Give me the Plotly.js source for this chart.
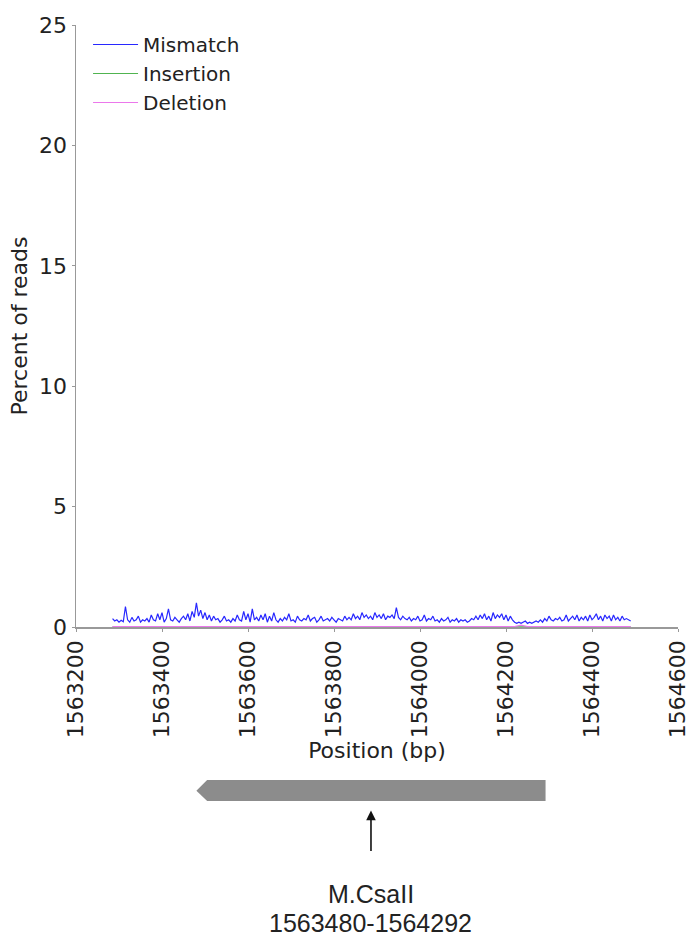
<!DOCTYPE html>
<html>
<head>
<meta charset="utf-8">
<script src="https://cdn.plot.ly/plotly-3.0.1.min.js"></script>
<style>html,body{margin:0;padding:0;background:#fff;}#chart{width:691px;height:950px;}</style>
</head>
<body>
<div id="chart"></div>
<script>
// ---- data ----
var mismatchStart = 1563285;
var mismatchStep = 5;
var mismatchValues = [
  0.35,0.25,0.3,0.2,0.28,0.22,0.85,0.3,0.2,0.4,
  0.25,0.3,0.45,0.2,0.3,0.25,0.35,0.2,0.5,0.3,
  0.25,0.55,0.3,0.6,0.2,0.35,0.75,0.3,0.25,0.4,
  0.3,0.2,0.35,0.45,0.3,0.55,0.25,0.65,0.4,1.0,
  0.45,0.7,0.35,0.6,0.3,0.5,0.25,0.45,0.3,0.35,
  0.2,0.3,0.45,0.25,0.3,0.2,0.35,0.25,0.5,0.3,
  0.25,0.65,0.3,0.55,0.2,0.75,0.3,0.4,0.25,0.5,
  0.3,0.55,0.2,0.45,0.25,0.6,0.3,0.2,0.35,0.25,
  0.4,0.3,0.55,0.25,0.3,0.2,0.45,0.3,0.25,0.35,
  0.3,0.5,0.25,0.35,0.4,0.2,0.3,0.45,0.25,0.3,
  0.35,0.25,0.4,0.3,0.2,0.35,0.3,0.25,0.45,0.3,
  0.4,0.3,0.55,0.35,0.45,0.3,0.6,0.4,0.5,0.35,
  0.45,0.3,0.6,0.4,0.5,0.35,0.55,0.3,0.45,0.4,
  0.5,0.35,0.8,0.4,0.3,0.45,0.35,0.3,0.4,0.25,
  0.35,0.3,0.45,0.25,0.3,0.5,0.25,0.35,0.3,0.45,
  0.25,0.3,0.2,0.35,0.25,0.3,0.4,0.2,0.3,0.25,
  0.35,0.2,0.3,0.25,0.3,0.2,0.25,0.35,0.3,0.45,
  0.3,0.5,0.35,0.55,0.3,0.45,0.25,0.6,0.35,0.5,
  0.4,0.55,0.3,0.5,0.25,0.45,0.3,0.2,0.15,0.2,
  0.15,0.2,0.25,0.15,0.2,0.15,0.2,0.25,0.2,0.3,
  0.2,0.35,0.25,0.45,0.3,0.25,0.35,0.3,0.4,0.25,
  0.3,0.5,0.25,0.35,0.45,0.3,0.5,0.25,0.4,0.3,
  0.45,0.25,0.5,0.3,0.4,0.55,0.3,0.45,0.25,0.5,
  0.35,0.45,0.25,0.5,0.3,0.4,0.25,0.45,0.3,0.35,
  0.3,0.25
];
var insertionPos = [1563285, 1563700, 1564100, 1564490];
var insertionValues = [0.01, 0.01, 0.01, 0.01];
var deletionPos = [1563285, 1563700, 1564220, 1564235, 1564250, 1564490];
var deletionValues = [0.02, 0.02, 0.02, 0.08, 0.02, 0.02];
var xTicks = [1563200, 1563400, 1563600, 1563800, 1564000, 1564200, 1564400, 1564600];
var yTicks = [0, 5, 10, 15, 20, 25];
var geneName = "M.CsaII";
var geneStart = 1563480;
var geneEnd = 1564292;

var mismatchPos = mismatchValues.map(function(_, i){ return mismatchStart + i*mismatchStep; });

var tickFont = {family: "DejaVu Sans", size: 22, color: "#222"};

var traces = [
  {x: mismatchPos, y: mismatchValues, name: "Mismatch", type: "scatter", mode: "lines",
   line: {color: "rgb(40,40,255)", width: 1.2}},
  {x: insertionPos, y: insertionValues, name: "Insertion", type: "scatter", mode: "lines",
   line: {color: "rgb(80,180,80)", width: 1.2}},
  {x: deletionPos, y: deletionValues, name: "Deletion", type: "scatter", mode: "lines",
   line: {color: "rgb(235,120,235)", width: 1.2}}
];

var arrowLen = 25;
var genePath = "M " + geneStart + " -0.272 L " + (geneStart + arrowLen) + " -0.254 L " + geneEnd + " -0.254 L " +
  geneEnd + " -0.289 L " + (geneStart + arrowLen) + " -0.289 Z";
var geneMid = (geneStart + geneEnd) / 2;

var layout = {
  width: 691, height: 950,
  margin: {l: 76, r: 13, t: 25, b: 323},
  paper_bgcolor: "#fff", plot_bgcolor: "#fff",
  showlegend: true,
  legend: {x: 0.02, y: 1.0, xanchor: "left", yanchor: "top", bgcolor: "rgba(0,0,0,0)",
           itemwidth: 45,
           font: {family: "DejaVu Sans", size: 20, color: "#222"}, tracegroupgap: 0},
  xaxis: {
    range: [1563200, 1564600], tickvals: xTicks, ticktext: xTicks.map(String),
    tickangle: -90, tickfont: tickFont, showgrid: false, zeroline: false,
    showline: true, linecolor: "#999", linewidth: 1.5, ticks: "outside", ticklen: 3, tickcolor: "#999",
    title: {text: "Position (bp)", font: tickFont, standoff: 3}, automargin: false
  },
  yaxis: {
    range: [0, 25], tickvals: yTicks, tickfont: tickFont, showgrid: false, zeroline: false,
    showline: true, linecolor: "#999", linewidth: 1.5, ticks: "outside", ticklen: 3, tickcolor: "#999",
    title: {text: "Percent of reads", font: tickFont, standoff: 5}, automargin: false
  },
  shapes: [
    {type: "path", xref: "x", yref: "paper", path: genePath, fillcolor: "#8c8c8c", line: {width: 0}}
  ],
  annotations: [
    {x: geneMid, xref: "x", y: -0.305, yref: "paper", ax: 0, ay: 42, axref: "pixel", ayref: "pixel",
     text: "", showarrow: true, arrowhead: 2, arrowsize: 1.2, arrowwidth: 1.6, arrowcolor: "#111"},
    {x: geneMid, xref: "x", y: -0.443, yref: "paper", text: geneName,
     showarrow: false, xanchor: "center", yanchor: "middle",
     font: {family: "Liberation Sans, Arial", size: 25, color: "#222"}},
    {x: geneMid, xref: "x", y: -0.491, yref: "paper", text: geneStart + "-" + geneEnd,
     showarrow: false, xanchor: "center", yanchor: "middle",
     font: {family: "Liberation Sans, Arial", size: 25, color: "#222"}}
  ]
};

Plotly.newPlot("chart", traces, layout, {displayModeBar: false, staticPlot: true});
</script>
</body>
</html>
